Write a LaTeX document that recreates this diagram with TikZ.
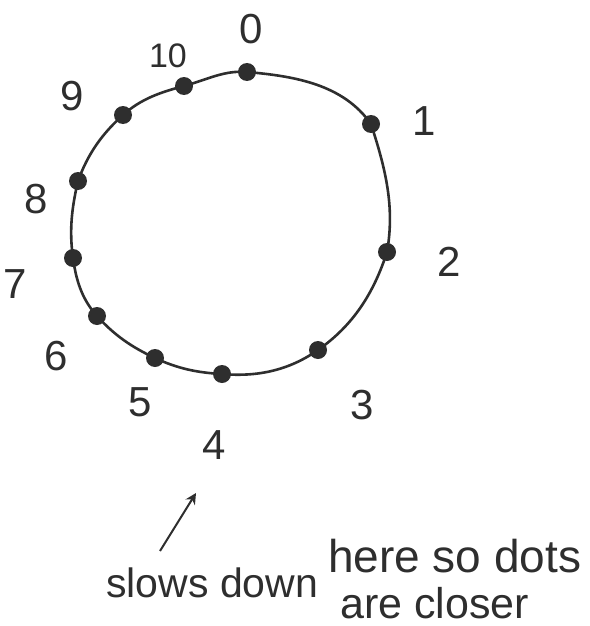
\documentclass[tikz,border=0pt]{standalone}
\usepackage{fontspec}
\setmainfont{Liberation Sans}
\usetikzlibrary{arrows.meta}
\definecolor{ink}{HTML}{2E2E2E}
\tikzset{
  ring/.style={draw=ink, line width=2.6pt, line join=round},
  dot/.style={circle, fill=ink, inner sep=0pt, minimum size=18pt},
  num/.style={text=ink, font=\fontsize{42}{44}\selectfont, inner sep=0pt, anchor=center},
  note/.style={text=ink, inner sep=0pt, anchor=base west},
  pointer/.style={draw=ink, line width=2pt, -{Stealth[length=11pt,width=11pt]}}
}
\begin{document}
\begin{tikzpicture}[x=1pt, y=-1pt]
\useasboundingbox (0,0) rectangle (589,626);
% positions of the dots on the loop
\coordinate (p0) at (247,72);
\coordinate (p1) at (371,124);
\coordinate (p2) at (387,252);
\coordinate (p3) at (318,350);
\coordinate (p4) at (222,374);
\coordinate (p5) at (155,358);
\coordinate (p6) at (97,316);
\coordinate (p7) at (73,258);
\coordinate (p8) at (78,181);
\coordinate (p9) at (123,115);
\coordinate (p10) at (184,86);
\draw[ring] (p0) .. controls +(48.2,4.2) and +(-27.8,-39.6) .. (p1)
  .. controls +(14.3,44.1) and +(8.1,-45.7) .. (p2)
  .. controls +(-13.3,41.1) and +(35.4,-24.8) .. (p3)
  .. controls +(-29.2,20.4) and +(35.5,3.1) .. (p4)
  .. controls +(-24.8,-1.3) and +(22.5,10.5) .. (p5)
  .. controls +(-23.4,-10.9) and +(17.3,19.2) .. (p6)
  .. controls +(-15.1,-16.8) and +(3.1,22.4) .. (p7)
  .. controls +(-3.9,-27.5) and +(-6.3,27.1) .. (p8)
  .. controls +(9.9,-27.1) and +(-21.4,19.3) .. (p9)
  .. controls +(18.1,-16.3) and +(-23.5,6.3) .. (p10)
  .. controls +(22.4,-6.0) and +(-23.1,-2.0) .. (p0) -- cycle;
\foreach \i in {0,...,10} { \node[dot] (d\i) at (p\i) {}; }
% labels
\node[num] (l0) at (251,29) {0};
\node[num] (l1) at (424,121) {1};
\node[num] (l2) at (449,262) {2};
\node[num] (l3) at (362,405) {3};
\node[num] (l4) at (214,445) {4};
\node[num] (l5) at (140,402) {5};
\node[num] (l6) at (56,356) {6};
\node[num] (l7) at (15,284) {7};
\node[num] (l8) at (36,199) {8};
\node[num] (l9) at (72,96) {9};
\node[num, font=\fontsize{34}{36}\selectfont] (l10) at (168,56) {10};
% annotation
\coordinate (tail) at (160,551);
\coordinate (head) at (196,493);
\draw[pointer] (tail) -- (head);
\node[note, font=\fontsize{41}{44}\selectfont] (t1) at (106,597) {slows down};
\node[note, font=\fontsize{46}{48}\selectfont] (t2) at (328,572) {here so dots};
\node[note, font=\fontsize{43}{46}\selectfont] (t3) at (340,618) {are closer};
\end{tikzpicture}
\end{document}
